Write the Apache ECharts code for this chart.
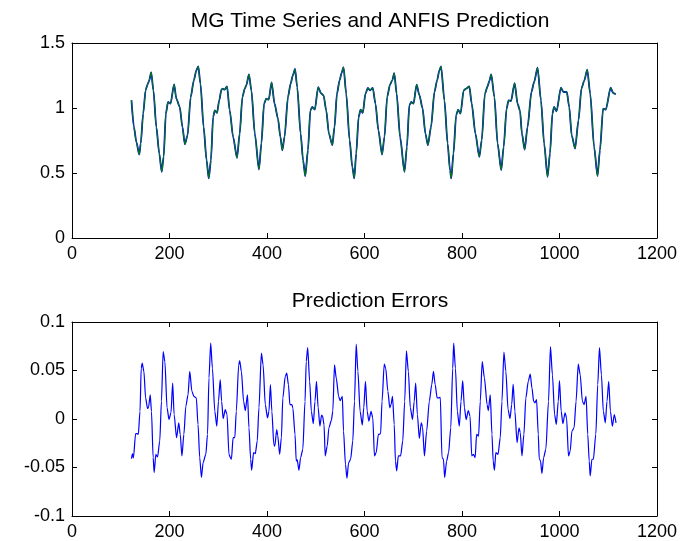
<!DOCTYPE html>
<html>
<head>
<meta charset="utf-8">
<script src="https://cdn.jsdelivr.net/npm/echarts@6/dist/echarts.min.js"></script>
<style>
html,body{margin:0;padding:0;background:#fff;}
#chart{width:680px;height:541px;}
</style>
</head>
<body>
<div id="chart"></div>
<script>
// ---- Data ----
const mgTime = [122,127,132,138,141,146,151,155,158,162.5,167,173,179,184,188,192.5,197,202,209.5,214,221,226.5,231.5,237,243.5,250,255,259,263.5,270,276,280.5,285,289.5,293,297.5,302,306.5,309,313,318,323.5,330.5,338.5,344,349.5,354.5,357.5,363,368,375,383.5,388.5,394,398.5,403.5,409.5,415.5,422.5,427.5,431.5,436,443,448.5,453,457.5,462,469,474,478.5,484,489,493,498,505,511,516,521.5,527,534,538.5,543.5,549,553,557,562.5,569.5,575,579,583,588,592,596.5,602,607,611.5,617,622.5,628.5,636,641,646.5,652.5,657,661,666,673,682,687,692,696,700.5,707,712.5,719,725,730,736.5,743.5,749,753.5,757,764,770.5,775.5,778,782.5,788,792,797,803.5,808.5,815,820,827.5,835.5,840.5,847,852.5,856,860,866.5,873,880.5,885.5,891.5,895.5,900.5,908,914,919,923,928.5,934.5,942.5,948,955,962,968.5,975.5,980.5,985.5,989,994,1003,1008,1015,1020,1025,1032,1039,1045,1050.5,1057,1063,1071,1078,1083,1089.5,1095,1105,1110,1115.5];
const mgValue = [1.06,0.854,0.739,0.642,0.727,0.957,1.136,1.182,1.207,1.274,1.136,0.854,0.65,0.509,0.624,0.957,1.046,1.033,1.182,1.072,1.008,0.854,0.721,0.79,1.084,1.213,1.289,1.32,1.187,0.854,0.599,0.458,0.599,0.931,0.982,0.962,1.059,1.141,1.149,1.141,1.166,0.982,0.777,0.616,0.803,1.084,1.149,1.174,1.259,1.136,0.803,0.527,0.727,1.033,1.072,1.064,1.197,1.033,0.918,0.777,0.675,0.777,1.084,1.187,1.251,1.3,1.161,0.803,0.599,0.476,0.675,0.982,1.008,0.988,1.161,1.112,1.097,0.982,0.803,0.714,0.854,1.11,1.213,1.269,1.315,1.11,0.752,0.547,0.458,0.65,0.931,0.988,0.962,1.11,1.154,1.136,1.154,1.033,0.829,0.642,0.777,1.084,1.182,1.213,1.269,1.11,0.777,0.509,0.701,1.021,1.046,1.033,1.18,1.1,1.0,0.803,0.714,0.854,1.123,1.213,1.289,1.32,1.059,0.727,0.522,0.458,0.65,0.944,0.988,0.957,1.136,1.149,1.166,1.033,0.803,0.624,0.752,1.11,1.166,1.207,1.259,1.084,0.727,0.522,0.701,0.995,1.059,1.054,1.192,1.033,0.98,0.803,0.68,0.854,1.123,1.2,1.31,1.059,0.727,0.47,0.65,0.957,1.008,0.975,1.156,1.123,1.123,1.008,0.79,0.688,0.906,1.149,1.207,1.295,1.11,0.701,0.476,0.675,0.995,0.988,1.156,1.115,1.105];

const errTime = [122,124,126,130.5,134,136,139.5,142,144,147.5,151,155,157,160.5,163,166.5,168.5,172,175.5,180,183.5,187,190.5,195,199,203,206.5,209.5,214.5,219,222,225.5,229.5,233.5,238,241.5,246,250,255,258.5,262,265.5,269,274.5,278,281,284.5,288,293,297,300.5,304,307,310,314.5,318,322,325,327,330.5,334,337,342,344,347.5,352,355.5,360,363,366.5,368.5,372.5,376,380,383.5,388.5,392,396.5,401,404,407,410,414,416,420,422,426,429.5,432.5,437.5,440.5,444,447,451,453,457.5,460,462,465.5,469,473.5,478,480.5,483.5,487.5,491,495,498.5,501.5,505,508.5,512,514,517,519.5,523.5,527,532,535,538.5,542,547,550,554.5,557,561,564,567.5,571.5,576,579.5,583,586.5,591,595.5,598.5,602,605.5,609,613.5,617,620.5,624,628.5,633,636,640.5,643.5,648,652,654.5,657.5,661,663.5,666,669.5,674,678.5,682.5,686,690,694,698.5,702,705,708.5,712.5,716.5,719,723,727.5,733,738,741.5,745,749,752,755.5,759,762,764.5,768.5,772.5,777,781,783,786.5,790.5,794.5,798,801.5,805,808.5,813,816.5,820,823.5,827,830,834,837.5,841.5,846,851.5,854,858,861.5,864,866.5,869.5,874,878.5,882,886,890,894.5,898.5,902,905,908.5,913,917,919.5,923,927,931,936,940,943.5,947,949.5,953,956.5,958.5,961,964,967.5,972,977.5,981.5,985.5,990,993.5,997.5,1000,1003.5,1007,1011.5,1014.5,1018.5,1022,1025.5,1030,1034,1038.5,1042.5,1047,1050.5,1054.5,1058,1061,1063,1066.5,1069.5,1074.5,1078.5,1082,1086,1090,1094,1097.5,1101,1104.5,1108.5,1112.5,1116];
const errValue = [-0.041,-0.036,-0.04,-0.015,-0.015,-0.016,0.008,0.0525,0.0576,0.049,0.0217,0.0108,0.012,0.025,0.008,-0.0398,-0.0552,-0.0364,-0.0392,-0.0227,0.0183,0.0696,0.0593,0.0115,-0.0005,0.0064,0.0371,0.0046,-0.0193,-0.0039,-0.0159,-0.0381,-0.0159,0.0131,0.025,0.049,0.0285,0.0234,0.0217,-0.0056,-0.0398,-0.0603,-0.0449,-0.0364,-0.0159,0.0423,0.0782,0.0525,0.008,-0.0074,0.0183,0.0405,0.0183,0.0005,0.0097,0.0046,-0.0364,-0.0398,-0.0415,-0.0193,-0.0193,0.008,0.0559,0.06,0.049,0.0183,0.0087,0.025,-0.009,-0.0415,-0.0528,-0.0347,-0.0357,-0.0227,0.0115,0.0679,0.0559,0.0149,0.0012,0.008,0.0354,0.008,-0.0262,-0.028,-0.0108,-0.017,-0.0364,-0.0193,0.0217,0.0439,0.0474,0.0354,0.0149,0.0149,0.0115,-0.0159,-0.0433,-0.042,-0.0528,-0.0398,-0.0313,0.0183,0.0593,0.0737,0.0388,0.008,-0.0049,0.0183,0.0388,0.0115,-0.0074,0.004,0.003,-0.006,-0.0381,-0.0279,-0.009,-0.0015,0.008,0.0559,0.0423,0.0234,0.019,0.0234,-0.0125,-0.0467,-0.061,-0.0449,-0.0415,-0.0227,0.0183,0.0771,0.049,0.008,-0.0063,0.0115,0.0388,0.008,-0.0022,0.008,0.0012,-0.0381,-0.0347,-0.0159,-0.0152,0.0183,0.0566,0.0525,0.0285,0.0115,0.0149,0.0234,-0.0056,-0.0433,-0.0535,-0.0381,-0.0381,-0.0227,0.0183,0.0703,0.049,0.0115,-0.0005,0.0183,0.0371,0.0046,-0.02,-0.0039,-0.008,-0.0381,-0.0125,0.0183,0.0354,0.049,0.0354,0.0217,0.0217,0.0224,-0.0398,-0.0415,-0.0603,-0.0433,-0.0347,-0.009,0.0525,0.0782,0.0525,0.008,-0.0074,0.0183,0.0395,0.0115,-0.0005,0.0087,0.0029,-0.0381,-0.0364,-0.0398,-0.0159,-0.0176,0.0183,0.0593,0.0423,0.0149,0.0087,0.025,-0.0159,-0.0433,-0.0528,-0.0347,-0.0364,-0.0193,0.0183,0.0689,0.049,0.0097,0.0005,0.0149,0.0361,0.008,-0.0244,-0.009,-0.014,-0.0381,-0.0159,0.0217,0.0388,0.0463,0.032,0.0183,0.0166,0.02,-0.0159,-0.0415,-0.0426,-0.0562,-0.0398,-0.0313,0.0183,0.0747,0.0456,0.0046,-0.0056,0.0183,0.0395,0.008,-0.0049,0.0064,0.0012,-0.0381,-0.033,-0.0125,-0.009,0.0183,0.0566,0.0456,0.0183,0.0149,0.0234,-0.0159,-0.0433,-0.0587,-0.0415,-0.0415,-0.0159,0.0354,0.0737,0.0456,0.008,-0.0039,0.0183,0.0388,0.008,-0.0074,0.0046,-0.0039];

const xTicks = {min: 0, max: 1200, interval: 200};
const topY = {min: 0, max: 1.5, interval: 0.5};
const botY = {min: -0.1, max: 0.1, interval: 0.05};
const titles = ['MG Time Series and ANFIS Prediction', 'Prediction Errors'];

// ---- Build chart ----
const FONT = 'Liberation Sans, Arial, Helvetica, sans-serif';
const pair = (xs, ys) => xs.map((x, i) => [x, ys[i]]);
const mgData = pair(mgTime, mgValue);
const errData = pair(errTime, errValue);

const grids = [
  {left: 72, top: 43, width: 586, height: 195},
  {left: 72, top: 322, width: 586, height: 195}
];
const axLine = {show: true, onZero: false, lineStyle: {color: '#000', width: 1}};
const axTick = {show: true, inside: true, length: 5, lineStyle: {color: '#000', width: 1}};
const labelStyle = {color: '#000', fontSize: 18, fontFamily: FONT};

const fmt = v => String(+v.toFixed(4));

const xAxes = [], yAxes = [];
[0, 1].forEach(g => {
  xAxes.push({type: 'value', gridIndex: g, position: 'bottom', ...xTicks,
    axisLine: axLine, axisTick: axTick, splitLine: {show: false},
    axisLabel: {...labelStyle, margin: 7, formatter: fmt}});
  xAxes.push({type: 'value', gridIndex: g, position: 'top', ...xTicks,
    axisLine: axLine, axisTick: axTick, splitLine: {show: false},
    axisLabel: {show: false}});
  const yr = g === 0 ? topY : botY;
  yAxes.push({type: 'value', gridIndex: g, position: 'left', ...yr,
    axisLine: axLine, axisTick: axTick, splitLine: {show: false},
    axisLabel: {...labelStyle, margin: 7, formatter: fmt}});
  yAxes.push({type: 'value', gridIndex: g, position: 'right', ...yr,
    axisLine: axLine, axisTick: axTick, splitLine: {show: false},
    axisLabel: {show: false}});
});

const lineBase = {type: 'line', showSymbol: false, symbol: 'none', smooth: 0.25,
  smoothMonotone: 'x', animation: false, silent: true};

const option = {
  backgroundColor: '#fff',
  animation: false,
  title: [
    {text: titles[0], left: 365, top: 6, textAlign: 'center',
      textStyle: {fontSize: 21, fontWeight: 'normal', color: '#000', fontFamily: FONT}},
    {text: titles[1], left: 365, top: 286, textAlign: 'center',
      textStyle: {fontSize: 21, fontWeight: 'normal', color: '#000', fontFamily: FONT}}
  ],
  grid: grids,
  xAxis: xAxes,
  yAxis: yAxes,
  series: [
    {...lineBase, name: 'MG', xAxisIndex: 0, yAxisIndex: 0, data: mgData,
      lineStyle: {color: '#0000ff', width: 1.8}},
    {...lineBase, name: 'ANFIS', xAxisIndex: 0, yAxisIndex: 0, data: mgData,
      lineStyle: {color: '#008000', width: 1.1}},
    {...lineBase, name: 'Error', xAxisIndex: 2, yAxisIndex: 2, data: errData,
      lineStyle: {color: '#0000ff', width: 1.2}}
  ]
};

const chart = echarts.init(document.getElementById('chart'), null, {renderer: 'canvas'});
chart.setOption(option);
</script>
</body>
</html>
